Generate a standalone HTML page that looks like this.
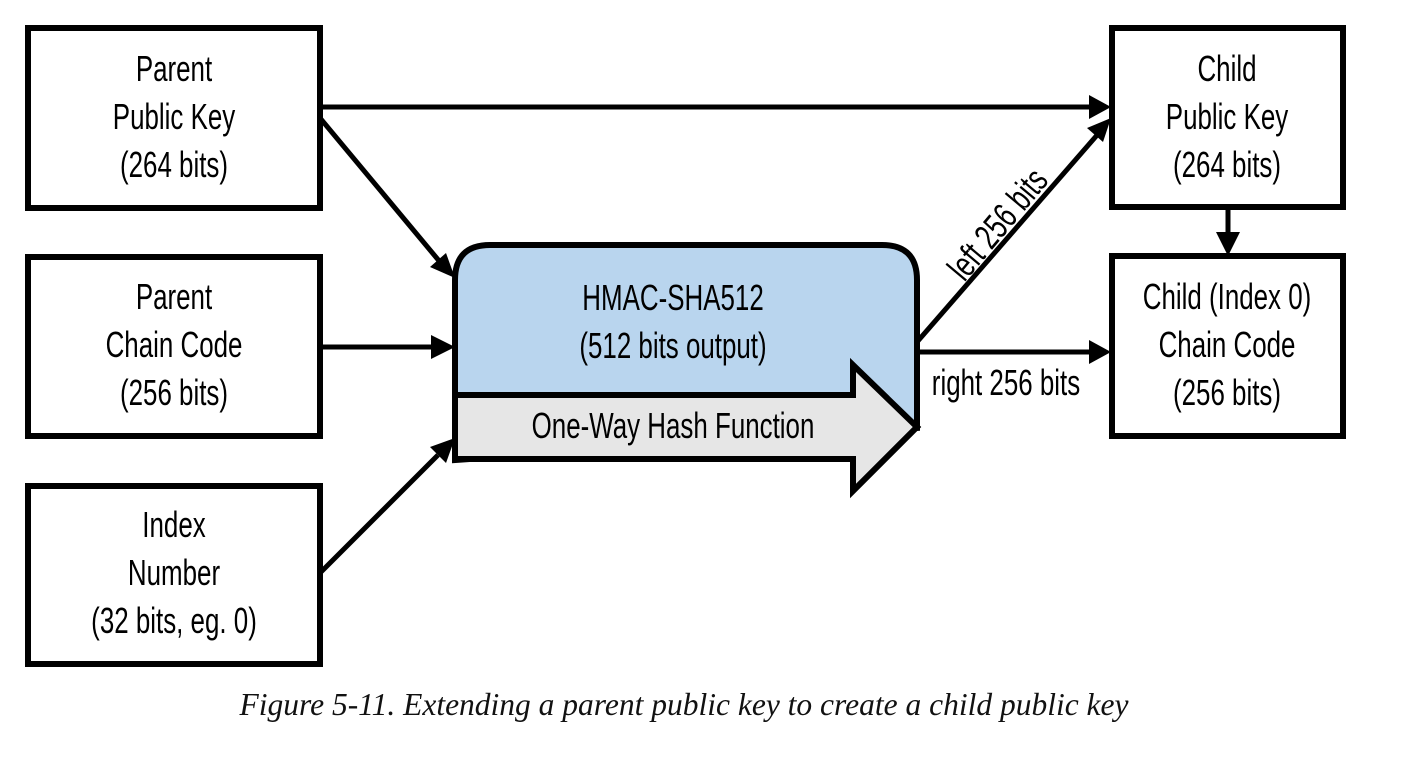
<!DOCTYPE html>
<html><head><style>
html,body{margin:0;padding:0;background:#fff;}
svg{display:block;}
.t{font-family:"Liberation Sans",sans-serif;font-size:36px;fill:#000;}
</style></head><body>
<svg width="1416" height="780" viewBox="0 0 1416 780" xmlns="http://www.w3.org/2000/svg">
<g fill="none" stroke="#000" stroke-width="6">
<rect x="28" y="28" width="292" height="180"/>
<rect x="28" y="257" width="292" height="179"/>
<rect x="28" y="486" width="292" height="178"/>
<rect x="1112" y="28" width="231" height="179"/>
<rect x="1112" y="256" width="231" height="180"/>
</g>
<path d="M455 460 L455 280 Q455 245 490 245 L882 245 Q917 245 917 280 L917 428 Z" fill="#b9d5ee" stroke="#000" stroke-width="6"/>
<path d="M455 395 L853 395 L853 365 L917 427 L853 491 L853 459 L455 459 Z" fill="#e6e6e6" stroke="#000" stroke-width="6" stroke-linejoin="miter"/>
<g stroke="#000" stroke-width="5" fill="none">
<line x1="320" y1="107" x2="1092" y2="107"/>
<line x1="320" y1="118" x2="440" y2="262"/>
<line x1="320" y1="347" x2="433" y2="347"/>
<line x1="320" y1="573" x2="438" y2="455"/>
<line x1="917" y1="342" x2="1098" y2="134"/>
<line x1="917" y1="352" x2="1092" y2="352"/>
<line x1="1228" y1="207" x2="1228" y2="236"/>
</g>
<g fill="#000">
<polygon points="1111,107 1089,95 1089,119"/>
<polygon points="455,278 446,253 430,267"/>
<polygon points="455,347 431,335 431,359"/>
<polygon points="455,438 430,447 446,463"/>
<polygon points="1111,118 1087,128 1103,142"/>
<polygon points="1111,352 1089,340 1089,364"/>
<polygon points="1228,256 1216,232 1240,232"/>
</g>
<g class="t" text-anchor="middle">
<g transform="translate(174,0) scale(0.72,1)">
<text x="0" y="81">Parent</text><text x="0" y="129">Public Key</text><text x="0" y="177">(264 bits)</text>
<text x="0" y="309">Parent</text><text x="0" y="357">Chain Code</text><text x="0" y="405">(256 bits)</text>
<text x="0" y="537">Index</text><text x="0" y="585">Number</text><text x="0" y="633">(32 bits, eg. 0)</text>
</g>
<g transform="translate(1227,0) scale(0.72,1)">
<text x="0" y="81">Child</text><text x="0" y="129">Public Key</text><text x="0" y="177">(264 bits)</text>
<text x="0" y="309">Child (Index 0)</text><text x="0" y="357">Chain Code</text><text x="0" y="405">(256 bits)</text>
</g>
<g transform="translate(673,0) scale(0.72,1)">
<text x="0" y="310">HMAC-SHA512</text><text x="0" y="358">(512 bits output)</text>
<text x="0" y="438">One-Way Hash Function</text>
</g>
<g transform="translate(1006,395) scale(0.72,1)"><text x="0" y="0">right 256 bits</text></g>
<g transform="translate(1007,232) rotate(-50) scale(0.72,1)"><text x="0" y="0">left 256 bits</text></g>
</g>
<text x="684" y="715" text-anchor="middle" font-family="Liberation Serif,serif" font-style="italic" font-size="31.5" fill="#111">Figure 5-11. Extending a parent public key to create a child public key</text>
</svg>
</body></html>
